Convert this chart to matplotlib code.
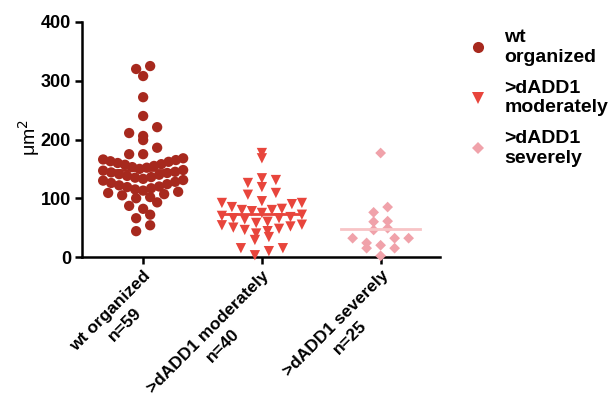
import numpy as np
import matplotlib
matplotlib.use('Agg')
import matplotlib.pyplot as plt
from matplotlib.lines import Line2D

plt.rcParams['font.family'] = ['Liberation Sans', 'DejaVu Sans']

# values (um^2)
wt_organized = [325, 320, 308, 272, 240, 221, 211, 206, 199, 186, 175, 175,
                168, 166, 165, 163, 162, 160, 158, 157, 155, 153, 152, 150,
                148, 147, 145, 144, 143, 141, 140, 138, 136, 135, 133, 131,
                130, 128, 126, 124, 122, 120, 119, 117, 115, 113, 111, 109,
                107, 105, 102, 100, 93, 87, 82, 72, 66, 54, 44]
dadd1_moderately = [177, 168, 134, 131, 126, 119, 109, 106, 95, 92, 92, 90,
                    85, 82, 80, 80, 78, 75, 72, 70, 68, 66, 66, 64, 60, 58,
                    55, 54, 52, 50, 48, 46, 44, 40, 34, 29, 15, 15, 10, 3]
dadd1_severely = [177, 85, 76, 61, 60, 49, 46, 32, 32, 32, 24, 20, 15, 15, 2]

groups = [wt_organized, dadd1_moderately, dadd1_severely]
tick_labels = ['wt organized\nn=59', '>dADD1 moderately\nn=40', '>dADD1 severely\nn=25']
legend_labels = ['wt\norganized', '>dADD1\nmoderately', '>dADD1\nseverely']
markers = ['o', 'v', 'D']
sizes = [55, 55, 30]
colors = ['#a7291e', '#e8453c', '#f0a2aa']
mean_colors = ['#a7291e', '#e8453c', '#f8c4c6']

W, H, DPI = 611, 398, 100
fig = plt.figure(figsize=(W / DPI, H / DPI), dpi=DPI)
ax_left, ax_bottom, ax_w, ax_h = 82, 141, 358, 235
ax = fig.add_axes([ax_left / W, ax_bottom / H, ax_w / W, ax_h / H])
ymax = 400
xlim = (-0.515, 2.5)
px_per_x = ax_w / (xlim[1] - xlim[0])
px_per_y = ax_h / ymax


def row_scatter(vals, row_h=11.0, step=14.0, half_width=40.0):
    # Prism-like scatter: values binned into rows, each row spread sideways,
    # smallest values in the middle so crowded rows form chevrons
    ys = np.array(vals, dtype=float) * px_per_y
    bins = np.floor(ys / row_h).astype(int)
    offs = np.zeros(len(vals))
    for b in np.unique(bins):
        idx = np.where(bins == b)[0]
        idx = idx[np.argsort(ys[idx], kind='stable')]
        n = len(idx)
        st = step if n < 2 else min(step, 2 * half_width / (n - 1))
        slots = np.arange(n) - (n - 1) / 2.0
        slots = slots[np.lexsort((slots, np.abs(slots)))]
        for j, i in enumerate(idx):
            offs[i] = slots[j] * st / px_per_x
    return offs


handles = []
for k, vals in enumerate(groups):
    offs = row_scatter(vals)
    ax.scatter(k + offs, vals, marker=markers[k], s=sizes[k], color=colors[k],
               edgecolors='none', clip_on=False, zorder=3)
    m = np.mean(vals)
    ax.plot([k - 0.335, k + 0.335], [m, m], color=mean_colors[k], lw=2, zorder=4)
    handles.append(Line2D([], [], marker=markers[k], ls='none', color=colors[k],
                          markersize=[8, 8.5, 6][k], markeredgewidth=0))

ax.set_xlim(*xlim)
ax.set_ylim(0, ymax)
ax.set_yticks([0, 100, 200, 300, 400])
ax.set_xticks([0, 1, 2])
ax.set_xticklabels(tick_labels, rotation=45, ha='right', rotation_mode='anchor',
                   multialignment='center', fontsize=12.5, fontweight='bold',
                   linespacing=1.4)
for t in ax.get_yticklabels():
    t.set_fontsize(13)
    t.set_fontweight('bold')
ax.tick_params(axis='both', direction='out', length=5, width=1.8, color='black', pad=3)
for s in ['top', 'right']:
    ax.spines[s].set_visible(False)
for s in ['left', 'bottom']:
    ax.spines[s].set_linewidth(1.8)
ax.set_ylabel('μm$^2$', fontsize=14)
ax.yaxis.set_label_coords(-0.112, 0.51)

leg = ax.legend(handles, legend_labels, loc='upper left', bbox_to_anchor=(449 / W, 1 - 12 / H),
                bbox_transform=fig.transFigure, frameon=False, handletextpad=0.75,
                labelspacing=0.7, handlelength=1.2,
                prop={'size': 14, 'weight': 'bold'})

fig.savefig('out.png', dpi=DPI)
